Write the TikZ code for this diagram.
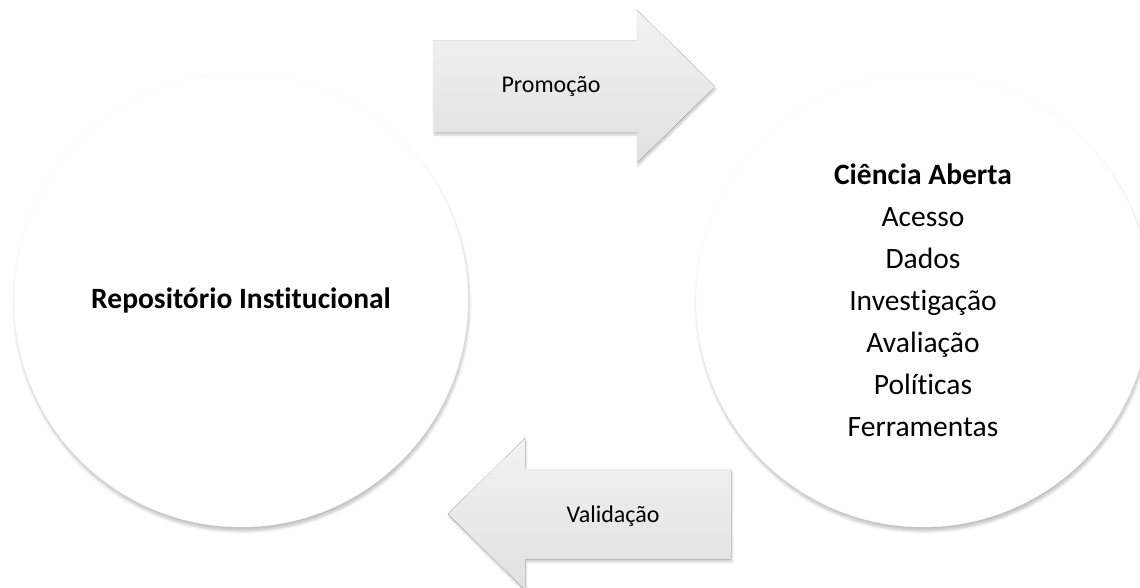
\documentclass[tikz,border=0pt]{standalone}
\usepackage{fontspec}
\setmainfont{Carlito}[Ligatures=NoCommon]
\usetikzlibrary{shadows.blur}
\tikzset{
	>=latex,
	topic/.style={circle, minimum size=454pt, inner sep=0pt, fill=white, draw=black!2, align=center,
		blur shadow={shadow xshift=1pt, shadow yshift=-4pt, shadow blur radius=3pt, shadow blur steps=6, shadow opacity=25},
		font=\fontsize{29.5}{42}\selectfont},
	flow/.style={top color=black!5, bottom color=black!12, draw=none,
		blur shadow={shadow xshift=1pt, shadow yshift=-3pt, shadow blur radius=2pt, shadow blur steps=4, shadow opacity=20}},
	flowtext/.style={font=\fontsize{24}{28}\selectfont, inner sep=0pt}
}
\begin{document}
\begin{tikzpicture}[x=1pt, y=-1pt]
	\useasboundingbox (0,0) rectangle (1140,588);
	% the two circles
	\node[topic] (ri) at (241,300) {\textbf{Repositório Institucional}};
	\node[topic] (ca) at (923,300) {\textbf{Ciência Aberta}\\Acesso\\Dados\\Investigação\\Avaliação\\Políticas\\Ferramentas};
	% block arrows between them
	\fill[flow] (433,41) -- (637,41) -- (637,10) -- (715,86.5) -- (637,163) -- (637,132) -- (433,132) -- cycle;
	\node[flowtext, anchor=base] (promo) at (551,93) {Promoção};
	\fill[flow] (731,469) -- (525,469) -- (525,438) -- (448,514) -- (525,590) -- (525,559) -- (731,559) -- cycle;
	\node[flowtext, anchor=base] (valid) at (613,522) {Validação};
\end{tikzpicture}
\end{document}
